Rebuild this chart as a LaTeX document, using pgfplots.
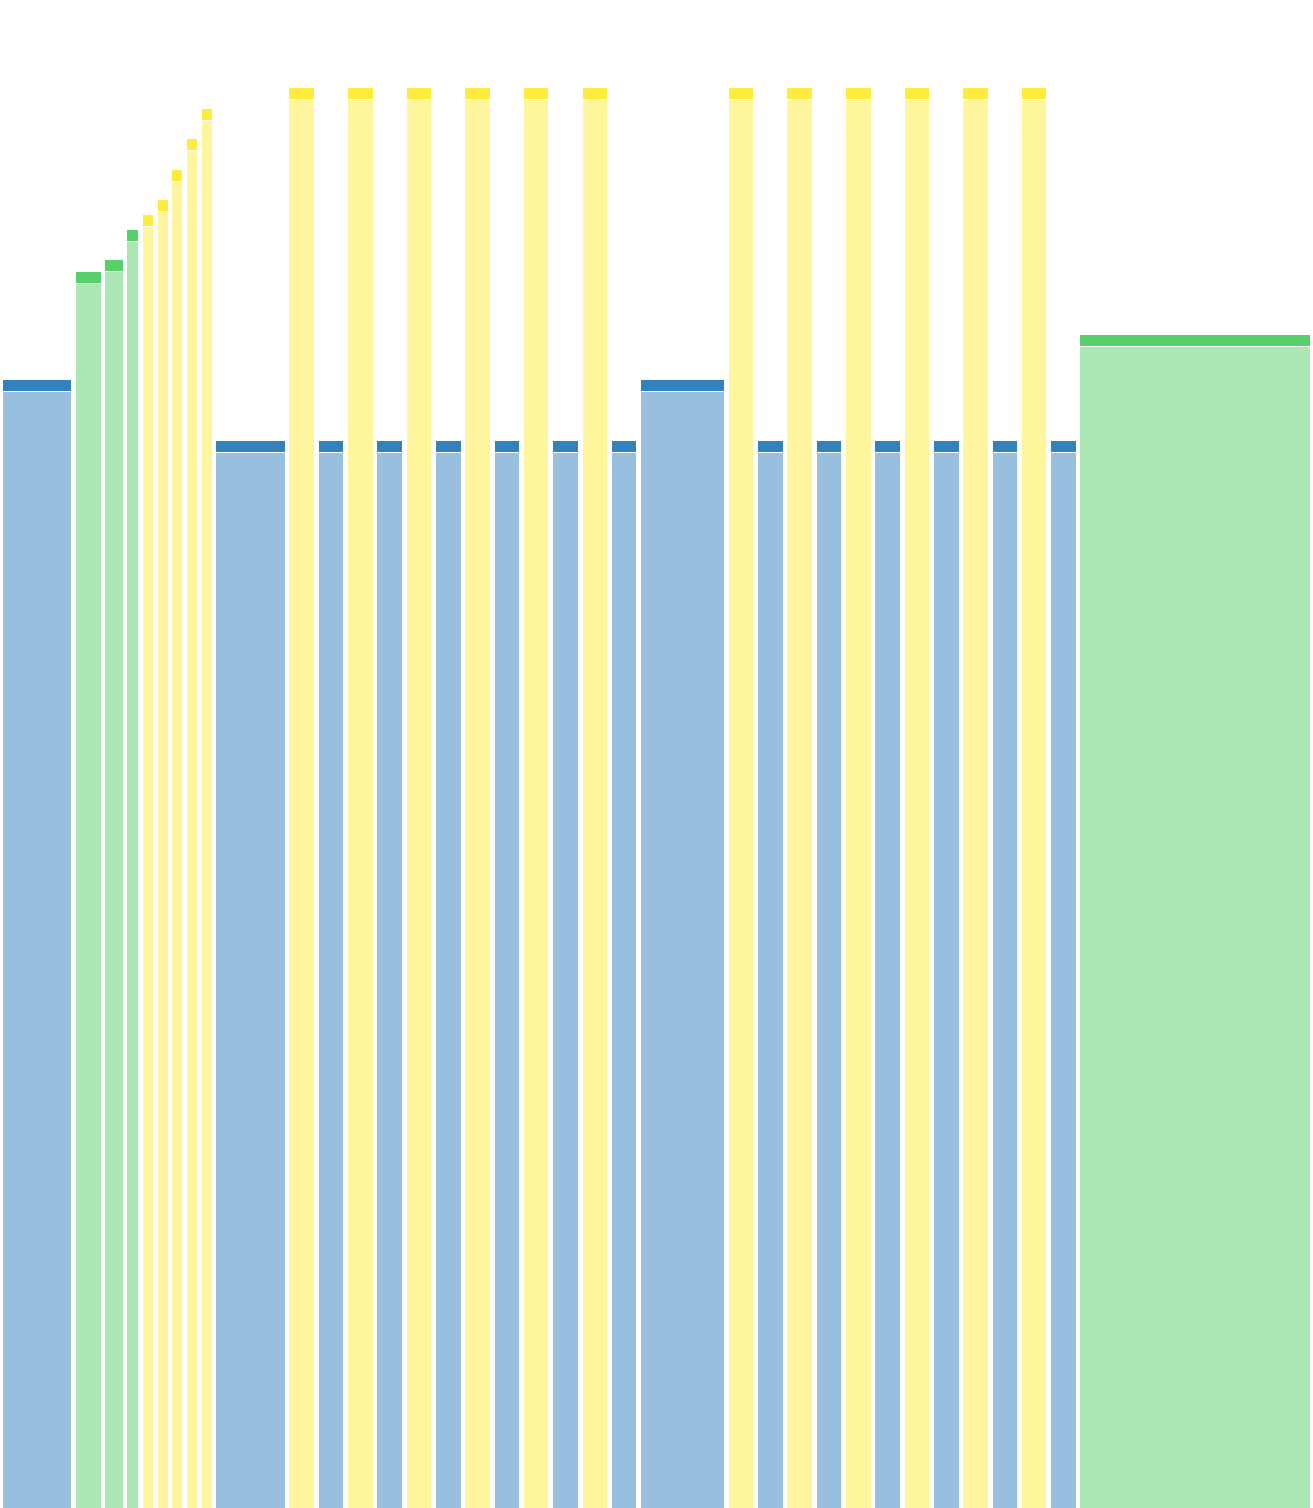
\documentclass[border=0pt]{standalone}
\usepackage{pgfplots}
\pgfplotsset{compat=1.18}
\definecolor{cblue}{HTML}{3182BD}
\definecolor{cgreen}{HTML}{57D06C}
\definecolor{cyellow}{HTML}{FFEB3B}
% one flame cell: colour, left, right, body top, cap bottom, cap top
\newcommand\cell[6]{%
  \addplot[draw=none, fill=#1!50!white] coordinates {(#2,0) (#2,#4) (#3,#4) (#3,0)} --cycle;
  \addplot[draw=none, fill=#1] coordinates {(#2,#5) (#2,#6) (#3,#6) (#3,#5)} --cycle;
}
\begin{document}
\begin{tikzpicture}
\begin{axis}[
  width=13.12cm, height=15.08cm, scale only axis,
  xmin=0, xmax=1312, ymin=0, ymax=1508,
  hide axis, clip=false]
\path (axis cs:0,0) rectangle (axis cs:1312,1508);
\cell{cblue}{3}{71}{1116}{1117}{1128}
\cell{cgreen}{76}{100.7}{1224}{1225}{1236}
\cell{cgreen}{105.3}{122.7}{1236}{1237}{1248}
\cell{cgreen}{127}{138}{1266}{1267}{1278}
\cell{cyellow}{143}{153}{1281}{1282}{1293}
\cell{cyellow}{158}{167.7}{1296}{1297}{1308}
\cell{cyellow}{172}{182}{1326}{1327}{1338}
\cell{cyellow}{187}{197}{1356.5}{1357.5}{1368.5}
\cell{cyellow}{201.7}{211.7}{1387}{1388}{1399}
\cell{cblue}{216}{285}{1055}{1056}{1067}
\cell{cyellow}{289.3}{314}{1408}{1409}{1420}
\cell{cblue}{318.7}{343.3}{1055}{1056}{1067}
\cell{cyellow}{348}{372.7}{1408}{1409}{1420}
\cell{cblue}{377.3}{402}{1055}{1056}{1067}
\cell{cyellow}{407}{431}{1408}{1409}{1420}
\cell{cblue}{436}{460.7}{1055}{1056}{1067}
\cell{cyellow}{465.3}{489.7}{1408}{1409}{1420}
\cell{cblue}{494.7}{519}{1055}{1056}{1067}
\cell{cyellow}{524}{548.3}{1408}{1409}{1420}
\cell{cblue}{553.3}{577.7}{1055}{1056}{1067}
\cell{cyellow}{582.7}{607}{1408}{1409}{1420}
\cell{cblue}{611.7}{636.3}{1055}{1056}{1067}
\cell{cblue}{641}{724}{1116}{1117}{1128}
\cell{cyellow}{729}{753.3}{1408}{1409}{1420}
\cell{cblue}{758}{783}{1055}{1056}{1067}
\cell{cyellow}{787.3}{812}{1408}{1409}{1420}
\cell{cblue}{816.7}{841.3}{1055}{1056}{1067}
\cell{cyellow}{846}{870.7}{1408}{1409}{1420}
\cell{cblue}{875.3}{900}{1055}{1056}{1067}
\cell{cyellow}{905}{929}{1408}{1409}{1420}
\cell{cblue}{934}{958.7}{1055}{1056}{1067}
\cell{cyellow}{963.3}{987.7}{1408}{1409}{1420}
\cell{cblue}{992.7}{1017.3}{1055}{1056}{1067}
\cell{cyellow}{1022}{1046.3}{1408}{1409}{1420}
\cell{cblue}{1051}{1076}{1055}{1056}{1067}
\cell{cgreen}{1080.3}{1310}{1161}{1162}{1173}
\end{axis}
\end{tikzpicture}
\end{document}
